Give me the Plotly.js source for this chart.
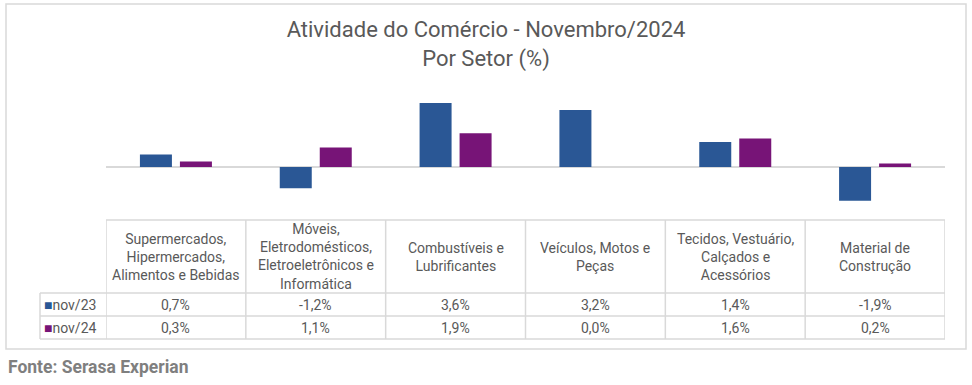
<!DOCTYPE html>
<html>
<head>
<meta charset="utf-8">
<script src="https://cdn.plot.ly/plotly-3.0.1.min.js"></script>
<style>html,body{margin:0;padding:0;background:#fff;}#chart{width:972px;height:385px;}</style>
</head>
<body>
<div id="chart"></div>
<script>
// ---- data ----
const categories = [
  "Supermercados,<br>Hipermercados,<br>Alimentos e Bebidas",
  "Móveis,<br>Eletrodomésticos,<br>Eletroeletrônicos e<br>Informática",
  "Combustíveis e<br>Lubrificantes",
  "Veículos, Motos e<br>Peças",
  "Tecidos, Vestuário,<br>Calçados e<br>Acessórios",
  "Material de<br>Construção"
];
const seriesNames = ["nov/23", "nov/24"];
const nov23 = [0.7, -1.2, 3.6, 3.2, 1.4, -1.9];
const nov24 = [0.3, 1.1, 1.9, 0.0, 1.6, 0.2];
const colors = ["#2A5795", "#771477"];
const titleText = "Atividade do Comércio - Novembro/2024<br>Por Setor (%)";
const sourceText = "Fonte: Serasa Experian";

// ---- layout helpers (pixel -> paper) ----
const W = 972, H = 385;
const px = x => x / W;
const py = y => (H - y) / H;
const textColor = "#595959";
const lineColor = "#d9d9d9";
const fmt = v => v.toFixed(1).replace('.', ',') + '%';

const xIdx = categories.map((_, i) => i);
const series = [nov23, nov24];

const traces = series.map((vals, s) => ({
  type: 'bar',
  x: xIdx,
  y: vals,
  name: seriesNames[s],
  marker: { color: colors[s] },
  hoverinfo: 'skip'
}));

// table geometry (pixels)
const tblLeft = 106, tblRight = 945, lblLeft = 40;
const hdrTop = 220, row1Top = 293, row2Top = 316, tblBottom = 339;

const shapes = [];
const annotations = [];
const addLine = (x0, y0, x1, y1) => shapes.push({
  type: 'line', xref: 'paper', yref: 'paper',
  x0: px(x0), y0: py(y0), x1: px(x1), y1: py(y1),
  line: { color: lineColor, width: 1.5 }, layer: 'below'
});

// outer border
shapes.push({ type: 'rect', xref: 'paper', yref: 'paper',
  x0: px(6), y0: py(349), x1: px(966), y1: py(4),
  line: { color: lineColor, width: 1.5 } });

// horizontal table lines
addLine(tblLeft, hdrTop, tblRight, hdrTop);
addLine(lblLeft, row1Top, tblRight, row1Top);
addLine(lblLeft, row2Top, tblRight, row2Top);
addLine(lblLeft, tblBottom, tblRight, tblBottom);
// vertical table lines (column boundaries via category axis)
const colW = (tblRight - tblLeft) / categories.length;
for (let i = 0; i <= categories.length; i++) {
  shapes.push({ type: 'line', xref: 'x', yref: 'paper',
    x0: i - 0.5, x1: i - 0.5, y0: py(hdrTop), y1: py(tblBottom),
    line: { color: lineColor, width: 1.5 }, layer: 'below' });
}
addLine(lblLeft, row1Top, lblLeft, tblBottom);

const tfont = { family: 'Roboto, sans-serif', size: 14, color: textColor };
// header cells
categories.forEach((c, i) => annotations.push({
  xref: 'x', yref: 'paper', x: i, y: py((hdrTop + row1Top) / 2),
  text: c, showarrow: false, xanchor: 'center', yanchor: 'middle',
  font: tfont, align: 'center'
}));
// value rows
const rowMid = [(row1Top + row2Top) / 2, (row2Top + tblBottom) / 2];
series.forEach((vals, s) => {
  annotations.push({
    xref: 'paper', yref: 'paper', x: px(lblLeft + 2), y: py(rowMid[s]),
    text: `<span style="color:${colors[s]}">■</span>${seriesNames[s]}`,
    showarrow: false, xanchor: 'left', yanchor: 'middle', font: tfont
  });
  vals.forEach((v, i) => annotations.push({
    xref: 'x', yref: 'paper', x: i, y: py(rowMid[s]),
    text: fmt(v), showarrow: false, xanchor: 'center', yanchor: 'middle', font: tfont
  }));
});
// source
annotations.push({
  xref: 'paper', yref: 'paper', x: px(6), y: py(367),
  text: `<b>${sourceText}</b>`, showarrow: false, xanchor: 'left', yanchor: 'middle',
  font: { family: 'Roboto, sans-serif', size: 17.5, color: '#7f7f7f' }
});

const layout = {
  width: W, height: H,
  margin: { l: 0, r: 0, t: 0, b: 0 },
  paper_bgcolor: '#fff', plot_bgcolor: '#fff',
  showlegend: false,
  barmode: 'group',
  bargap: 1 - 80 / colW,
  bargroupgap: 0.2,
  title: { text: titleText, x: 0.5, xanchor: 'center', y: py(37), yanchor: 'middle',
    font: { family: 'Roboto, sans-serif', size: 22, color: textColor } },
  xaxis: { domain: [px(tblLeft), px(tblRight)], range: [-0.5, categories.length - 0.5],
    showticklabels: false, showgrid: false, zeroline: false, showline: false, ticks: '' },
  yaxis: { domain: [py(216.8), py(92.2)], range: [-2.8, 4.2],
    showticklabels: false, showgrid: false, zeroline: true, zerolinecolor: lineColor,
    zerolinewidth: 2, showline: false, ticks: '' },
  shapes, annotations
};

Plotly.newPlot('chart', traces, layout, { staticPlot: true, displayModeBar: false });
</script>
</body>
</html>
